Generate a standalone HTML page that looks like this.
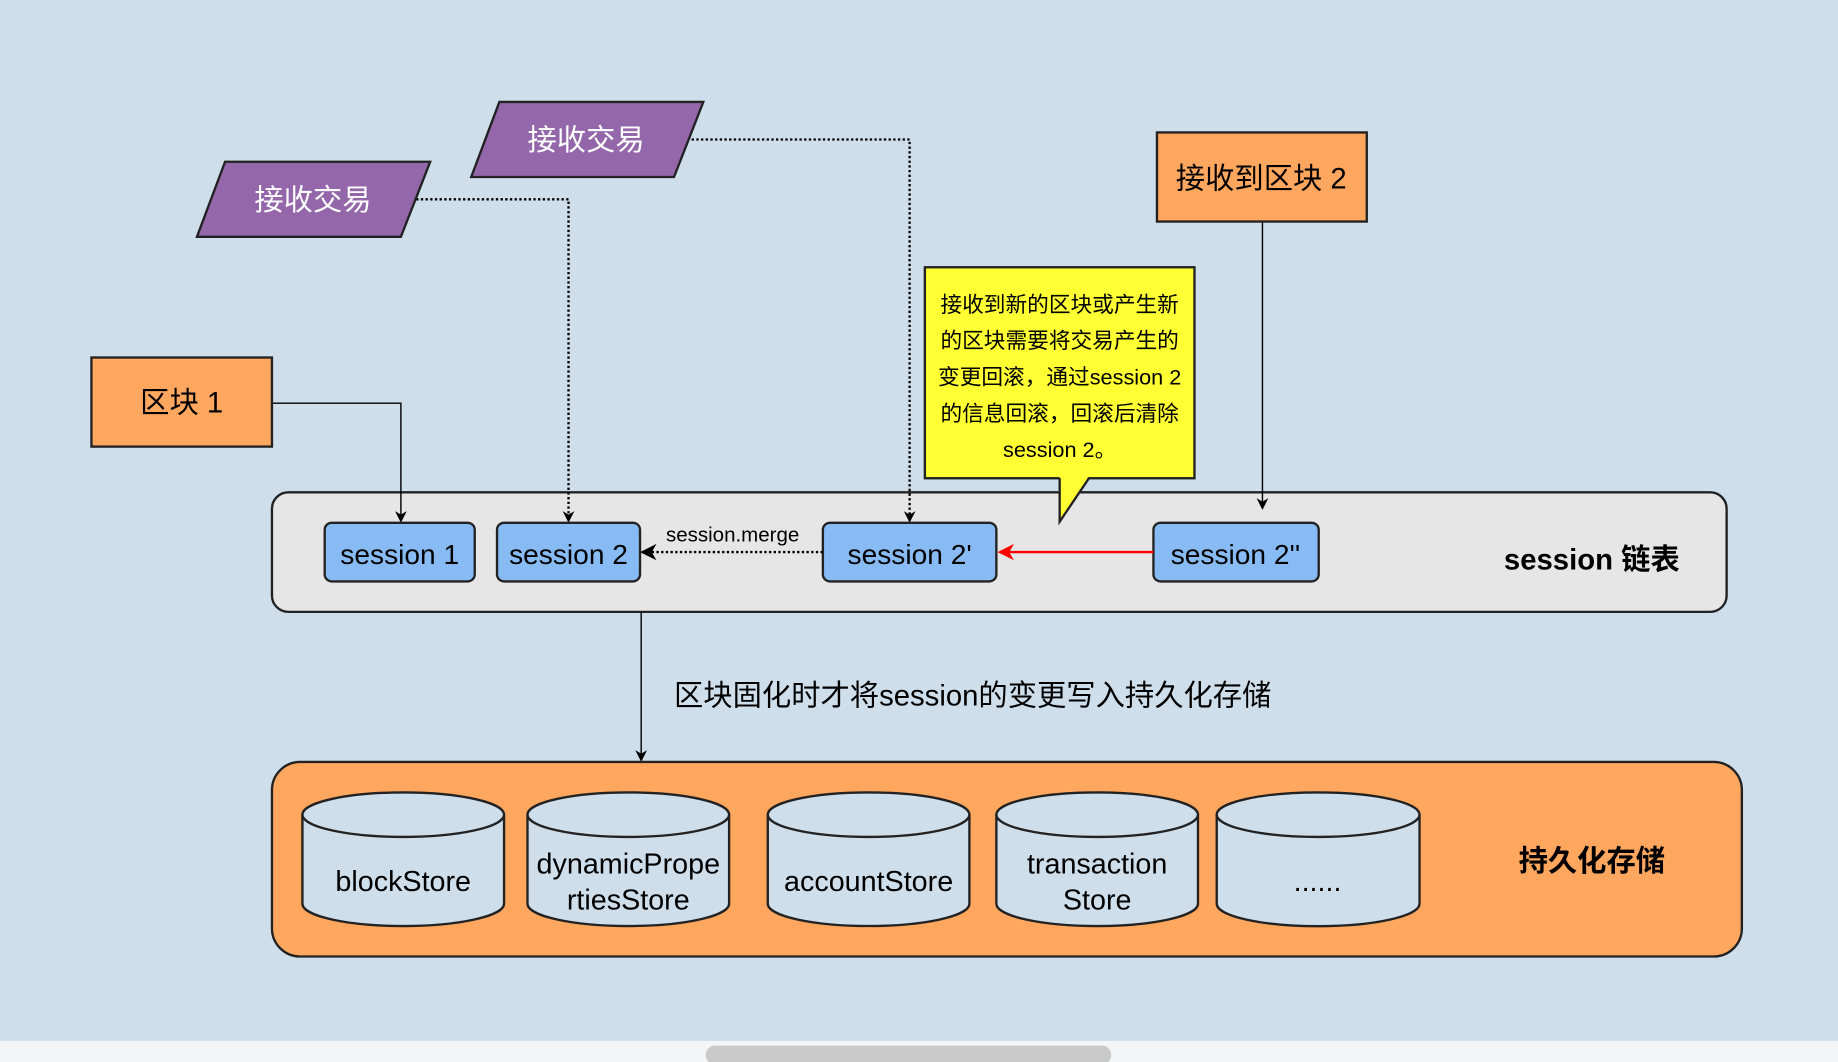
<!DOCTYPE html>
<html><head><meta charset="utf-8"><style>
html,body{margin:0;padding:0;background:#cfdeeb;}
svg{display:block;}
text{font-family:"Liberation Sans","Noto Sans CJK SC",sans-serif;}
</style></head><body>
<svg width="1838" height="1062" viewBox="0 0 1568 906" xmlns="http://www.w3.org/2000/svg">
<defs>
<marker id="a" markerWidth="10" markerHeight="10" refX="8" refY="5" orient="auto" markerUnits="userSpaceOnUse"><path d="M0,0 L10,5 L0,10 L3,5 Z" fill="#000"/></marker>
<marker id="r" markerWidth="14" markerHeight="14" refX="12" refY="7" orient="auto" markerUnits="userSpaceOnUse"><path d="M0,0 L14,7 L0,14 L4,7 Z" fill="#f00"/></marker>
<marker id="b" markerWidth="14" markerHeight="14" refX="12" refY="7" orient="auto" markerUnits="userSpaceOnUse"><path d="M0,0 L14,7 L0,14 L4,7 Z" fill="#000"/></marker>
</defs>
<rect width="1568" height="906" fill="#cfdeeb"/>
<rect y="888" width="1568" height="18" fill="#f4f5f6"/>
<rect x="602" y="892" width="346" height="16" rx="8" fill="#c9c9c9"/>

<!-- session container -->
<rect x="232" y="420" width="1241" height="102" rx="14" fill="#e6e6e6" stroke="#222" stroke-width="2"/>

<!-- connectors -->
<path d="M232,344 H342 V444" fill="none" stroke="#000" stroke-width="1.2" marker-end="url(#a)"/>
<path d="M355,170 H485 V444" fill="none" stroke="#000" stroke-width="2" stroke-dasharray="2,2" marker-end="url(#a)"/>
<path d="M590,119 H776 V444" fill="none" stroke="#000" stroke-width="2" stroke-dasharray="2,2" marker-end="url(#a)"/>
<path d="M1077,189 V433" stroke="#000" stroke-width="1.2" fill="none" marker-end="url(#a)"/>

<!-- parallelograms -->
<polygon points="192,138 367,138 342,202 168,202" fill="#9467ab" stroke="#222" stroke-width="2"/>
<text x="267" y="179" font-size="25" fill="#fff" text-anchor="middle">接收交易</text>
<polygon points="426,87 600,87 575,151 402,151" fill="#9467ab" stroke="#222" stroke-width="2"/>
<text x="500" y="128" font-size="25" fill="#fff" text-anchor="middle">接收交易</text>

<rect x="78" y="305" width="154" height="76" fill="#ffa75e" stroke="#222" stroke-width="2"/>
<text x="155" y="352" font-size="25" text-anchor="middle">区块 1</text>
<rect x="987" y="113" width="179" height="76" fill="#ffa75e" stroke="#222" stroke-width="2"/>
<text x="1076" y="161" font-size="25" text-anchor="middle">接收到区块 2</text>

<!-- callout -->
<rect x="789" y="228" width="230" height="180" fill="#ffff33" stroke="#222" stroke-width="2"/>
<polygon points="904,406 904,445 929,406" fill="#ffff33"/>
<polyline points="904,408 904,445 929,408" fill="none" stroke="#222" stroke-width="2"/>
<g font-size="18.5" text-anchor="middle">
<text x="904" y="266">接收到新的区块或产生新</text>
<text x="904" y="297">的区块需要将交易产生的</text>
<text x="904" y="328">变更回滚，通过session 2</text>
<text x="904" y="359">的信息回滚，回滚后清除</text>
<text x="904" y="390">session 2。</text>
</g>

<g fill="#88bbf3" stroke="#222" stroke-width="2">
<rect x="277" y="446" width="128" height="50" rx="6"/>
<rect x="424" y="446" width="122" height="50" rx="6"/>
<rect x="702" y="446" width="148" height="50" rx="6"/>
<rect x="984" y="446" width="141" height="50" rx="6"/>
</g>
<g font-size="24" text-anchor="middle">
<text x="341" y="481">session 1</text>
<text x="485" y="481">session 2</text>
<text x="776" y="481">session 2'</text>
<text x="1054" y="481">session 2''</text>
</g>
<path d="M984,471 H853" stroke="#f00" stroke-width="2" fill="none" marker-end="url(#r)"/>
<path d="M702,471 H548" stroke="#000" stroke-width="2" stroke-dasharray="2,2" fill="none" marker-end="url(#b)"/>
<text x="625" y="462" font-size="17.5" text-anchor="middle">session.merge</text>
<text x="1358" y="486" font-size="25" font-weight="bold" text-anchor="middle">session 链表</text>

<path d="M547,522 V648" stroke="#000" stroke-width="1.2" fill="none" marker-end="url(#a)"/>
<text x="575" y="602" font-size="25">区块固化时才将session的变更写入持久化存储</text>

<!-- storage -->
<rect x="232" y="650" width="1254" height="166" rx="24" fill="#ffa75e" stroke="#222" stroke-width="2"/>
<g fill="#cfdeeb" stroke="#222" stroke-width="2">
<path d="M258,695 V771 A86,19 0 0 0 430,771 V695"/><ellipse cx="344" cy="695" rx="86" ry="19"/>
<path d="M450,695 V771 A86,19 0 0 0 622,771 V695"/><ellipse cx="536" cy="695" rx="86" ry="19"/>
<path d="M655,695 V771 A86,19 0 0 0 827,771 V695"/><ellipse cx="741" cy="695" rx="86" ry="19"/>
<path d="M850,695 V771 A86,19 0 0 0 1022,771 V695"/><ellipse cx="936" cy="695" rx="86" ry="19"/>
<path d="M1038,695 V771 A86,19 0 0 0 1211,771 V695"/><ellipse cx="1124.5" cy="695" rx="86.5" ry="19"/>
</g>
<g font-size="24.5" text-anchor="middle">
<text x="344" y="760">blockStore</text>
<text x="536" y="745">dynamicPrope</text>
<text x="536" y="776">rtiesStore</text>
<text x="741" y="760">accountStore</text>
<text x="936" y="745">transaction</text>
<text x="936" y="776">Store</text>
<text x="1124" y="760">......</text>
</g>
<text x="1358" y="743" font-size="25" font-weight="bold" text-anchor="middle">持久化存储</text>
</svg>
</body></html>
